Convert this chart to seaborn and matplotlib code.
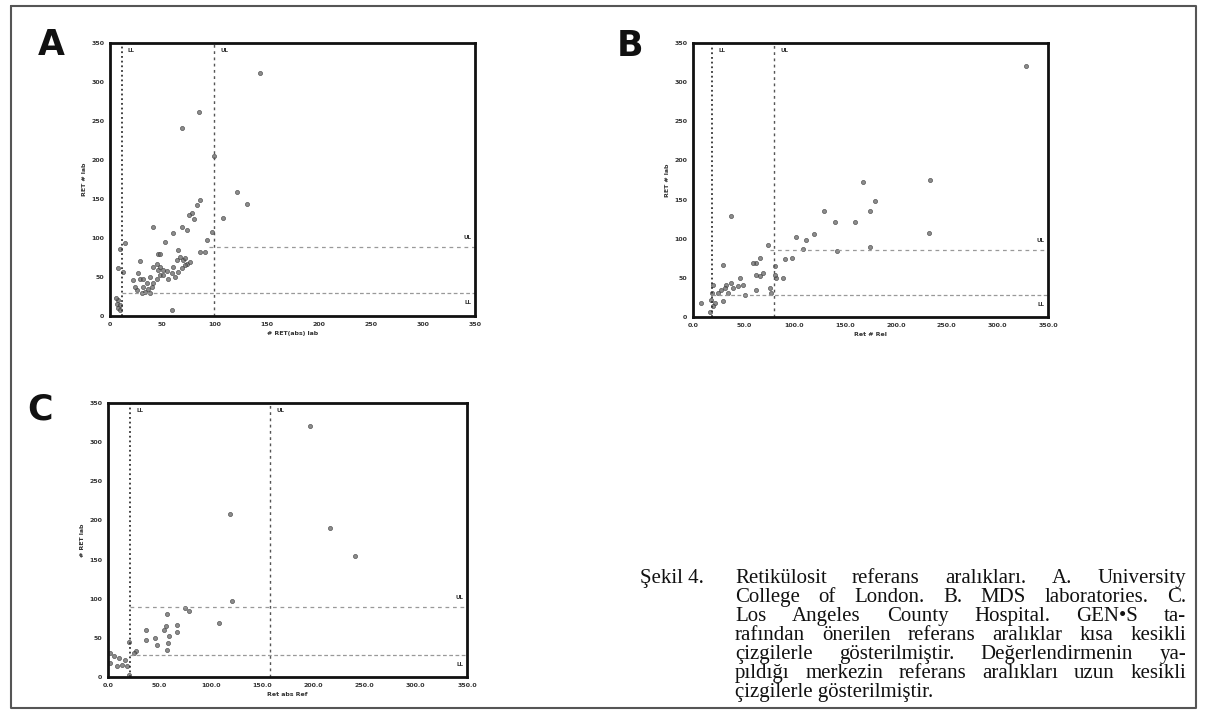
import matplotlib
matplotlib.use("Agg")
import matplotlib.pyplot as plt
import seaborn as sns

# --- data (x = reference count, y = centre count) ---
a_x = [143.9, 85.7, 69.4, 99.7, 121.5, 131.0, 86.3, 83.5, 78.8, 80.2, 75.3, 108.0, 97.5,
       41.6, 68.7, 60.7, 73.5, 52.7, 92.7, 65.5, 45.7, 47.9, 86.3, 91.1, 9.6, 14.4, 8.0,
       12.8, 28.8, 28.8, 27.2, 22.4, 38.4, 35.2, 32.0, 30.4, 33.6, 36.8, 40.0, 41.6, 44.8,
       46.4, 47.9, 51.1, 54.4, 56.0, 60.7, 62.3, 63.9, 67.1, 70.3, 72.0, 73.5, 76.7, 72.0,
       68.7, 65.5, 59.1, 41.6, 47.9, 44.8, 25.6, 24.0, 38.4, 8.0, 6.4, 9.6, 8.0, 5.8, 9.6,
       59.0, 51.1, 32.0]
a_y = [311, 261, 241, 205, 159, 144, 149, 142, 132, 125, 129, 126, 108,
       114, 114, 106, 110, 95, 97, 84, 79, 79, 82, 82, 86.5, 93, 61,
       57, 70, 48, 55, 46, 50, 42, 37.5, 29, 31, 35, 37.5, 42, 48,
       59, 52, 52, 58, 48, 63, 50, 72, 76, 72, 74, 67, 69, 65,
       61, 57, 55, 63, 63, 67, 33, 37.5, 29, 20.5, 16, 14, 10, 23, 8,
       8, 59, 48]

b_x = [328.7, 167.7, 234.0, 179.8, 174.2, 129.2, 140.4, 159.4, 232.8, 119.0, 111.1, 101.9,
       174.2, 142.0, 108.5, 74.0, 37.1, 91.0, 97.6, 80.5, 62.5, 59.2, 65.7, 29.6, 62.5, 65.7,
       69.0, 82.2, 88.8, 80.5, 46.0, 49.3, 44.4, 37.8, 32.9, 31.2, 27.9, 24.7, 34.5, 39.4,
       50.9, 62.5, 75.6, 77.3, 19.7, 19.0, 18.0, 21.4, 19.7, 16.4, 8.2, 29.6]
b_y = [321, 172, 175.5, 148, 135, 135, 121, 121, 107, 106, 98, 102,
       89, 84, 87, 92, 128.6, 74, 75, 65, 69, 69, 75, 67, 54, 52,
       56, 50, 50, 54, 50, 41, 39, 43, 41, 37, 35, 31, 31, 37,
       28.5, 35, 37, 31, 41, 31, 22, 18, 13.6, 7, 18, 20]

c_x = [197.2, 119.2, 216.7, 241.0, 120.9, 107.9, 78.6, 75.4, 57.5, 67.3, 67.3, 56.2, 54.3,
       59.1, 58.2, 57.5, 46.1, 47.8, 37.4, 37.4, 20.1, 27.6, 25.0, 2.3, 5.5, 8.8, 13.6,
       18.5, 16.9, 10.4, 2.3, 20.1]
c_y = [320, 208, 190.7, 155, 97.7, 68.8, 83.7, 88, 80.7, 66.7, 57, 64.6, 60.3,
       51.8, 43.3, 34.8, 49.7, 41.2, 60.3, 47.6, 44.6, 32.7, 30.6, 30.6, 26.3, 13.6, 15.7,
       13.6, 22, 24.2, 17.8, 3]

# reference limits: (GEN-S vertical, centre vertical, upper horizontal, lower horizontal)
a_ref = [11.2, 100.0, 88.7, 29.0]
b_ref = [18.7, 79.9, 86.0, 27.7]
c_ref = [21.8, 158.2, 90.0, 28.5]

ticks = [0, 50, 100, 150, 200, 250, 300, 350]

caption_head = "Şekil 4."
caption_lines = [
    "Retikülosit referans aralıkları. A. University",
    "College of London. B. MDS laboratories. C.",
    "Los Angeles County Hospital. GEN•S ta-",
    "rafından önerilen referans aralıklar kısa kesikli",
    "çizgilerle gösterilmiştir. Değerlendirmenin ya-",
    "pıldığı merkezin referans aralıkları uzun kesikli",
    "çizgilerle gösterilmiştir.",
]

sns.set_style("white")
W, H = 1206, 717
fig = plt.figure(figsize=(W / 100, H / 100), dpi=100)


def px_rect(l, t, r, b):
    return [l / W, 1 - b / H, (r - l) / W, (b - t) / H]


def panel(rect, xs, ys, ref, xlab, ylab, xfmt, letter, letter_pos):
    ax = fig.add_axes(px_rect(*rect))
    sns.scatterplot(x=xs, y=ys, ax=ax, s=9, color="#666666", edgecolor="#333333",
                    linewidth=0.5, alpha=0.75, legend=False)
    ax.set_xlim(0, 350)
    ax.set_ylim(0, 350)
    # GEN-S short dashed verticals / centre lines
    ax.axvline(ref[0], color="#333333", lw=1.3, ls=(0, (1, 1.6)))
    ax.axvline(ref[1], color="#555555", lw=1.0, ls=(0, (2, 2.5)))
    ax.hlines(ref[2], ref[0] if letter == "C" else ref[1] * 0.95, 350,
              color="#999999", lw=0.9, ls=(0, (3, 3)))
    ax.hlines(ref[3], ref[0], 350, color="#999999", lw=0.9, ls=(0, (3, 2)))
    kw = dict(fontsize=4, color="#333333", fontweight="bold")
    ax.text(ref[0] + 6, 340, "LL", ha="left", va="center", **kw)
    ax.text(ref[1] + 6, 340, "UL", ha="left", va="center", **kw)
    ax.text(343, ref[2] + 12, "UL", ha="center", va="center", **kw)
    ax.text(343, ref[3] - 12, "LL", ha="center", va="center", **kw)

    ax.set_xticks(ticks)
    ax.set_yticks(ticks)
    ax.set_xticklabels([xfmt % t for t in ticks])
    ax.set_yticklabels([str(t) for t in ticks])
    ax.tick_params(labelsize=4.5, length=2, width=0.8, pad=2, colors="#333333")
    for lab in ax.get_xticklabels() + ax.get_yticklabels():
        lab.set_fontweight("bold")
    for sp in ax.spines.values():
        sp.set_linewidth(2.0)
        sp.set_color("#111111")
        sp.set_visible(True)
    ax.set_xlabel(xlab, fontsize=4.5, fontweight="bold", color="#333333", labelpad=3)
    ax.set_ylabel(ylab, fontsize=4.5, fontweight="bold", color="#333333", labelpad=3)
    fig.text(letter_pos[0] / W, 1 - letter_pos[1] / H, letter, fontsize=25,
             fontweight="bold", ha="center", va="center", color="#111111")
    return ax


panel((110, 43, 475, 316), a_x, a_y, a_ref, "# RET(abs) lab", "RET # lab", "%d", "A", (51, 45))
panel((693, 43, 1048, 317), b_x, b_y, b_ref, "Ret # Rel", "RET # lab", "%.1f", "B", (630, 46))
panel((108, 403, 467, 677), c_x, c_y, c_ref, "Ret abs Ref", "# RET lab", "%.1f", "C", (40, 409))

# page border of the scan
border = fig.add_axes([0, 0, 1, 1], facecolor="none")
border.set_xlim(0, W)
border.set_ylim(H, 0)
border.axis("off")
border.plot([11, 1196, 1196, 11, 11], [6, 6, 708, 708, 6], color="#555555", lw=1.5)

# justified caption
fig.canvas.draw()
renderer = fig.canvas.get_renderer()
cap_kw = dict(fontsize=15, family="Liberation Serif", color="#111111", va="baseline")
x0, x1 = 735, 1186
base = [583, 602, 621, 640, 659, 678, 697]
fig.text(640 / W, 1 - base[0] / H, caption_head, ha="left", **cap_kw)
for i, line in enumerate(caption_lines):
    y = 1 - base[i] / H
    words = line.split()
    if i == len(caption_lines) - 1:
        fig.text(x0 / W, y, line, ha="left", **cap_kw)
        continue
    objs = [fig.text(0, y, w, ha="left", **cap_kw) for w in words]
    widths = [o.get_window_extent(renderer).width for o in objs]
    gap = (x1 - x0 - sum(widths)) / (len(words) - 1)
    x = x0
    for o, w in zip(objs, widths):
        o.set_x(x / W)
        x += w + gap

fig.savefig("out.png", dpi=100)
